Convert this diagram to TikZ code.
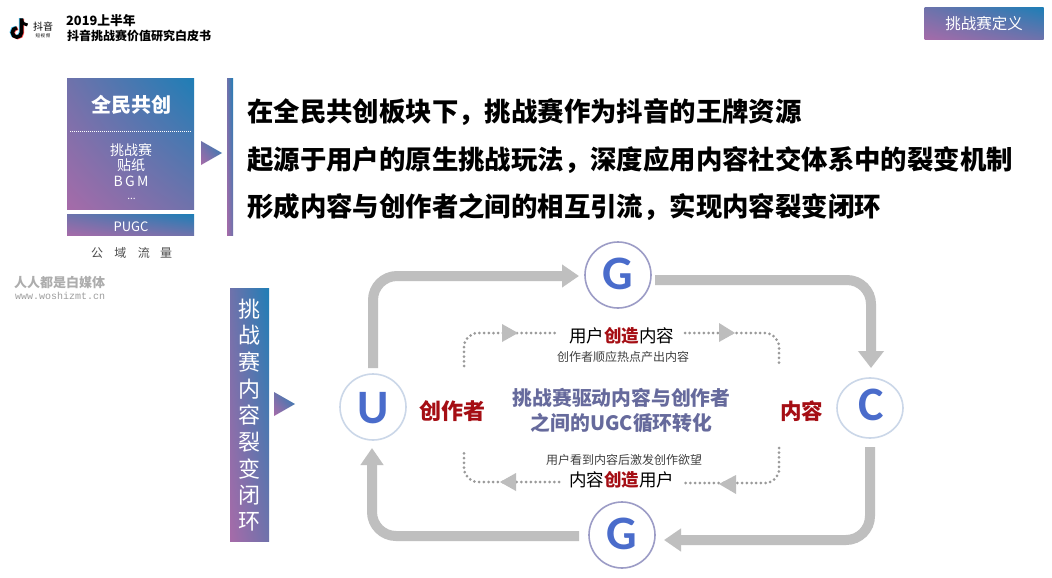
\documentclass[tikz,border=0pt]{standalone}
\usepackage{fontspec}
\setmainfont{Noto Sans CJK SC}
\newfontfamily\latinbold{Carlito}
\newfontfamily\wmono{Liberation Mono}
\usetikzlibrary{arrows.meta,shadings,shapes.geometric}
\definecolor{gpurple}{HTML}{A66BA9}
\definecolor{gblue}{HTML}{1F7EB6}
\definecolor{gmid}{HTML}{6F72AB}
\definecolor{arrowgray}{HTML}{BFBFBF}
\definecolor{dotgray}{HTML}{9A9A9A}
\definecolor{trigray}{HTML}{BDBDBD}
\definecolor{darkred}{HTML}{A50E14}
\definecolor{lettblue}{HTML}{4A6CCB}
\definecolor{ringa}{HTML}{CBD7E8}
\definecolor{ringb}{HTML}{9C9CC6}
\definecolor{slate}{HTML}{666A9C}
\newcommand{\fs}[1]{\fontsize{#1}{#1}\selectfont}
\tikzset{
  gradbox/.style={rectangle,inner sep=0pt,outer sep=0pt,lower left=gpurple,upper right=gblue,upper left=gmid,lower right=gmid,text=white,align=center},
  bigline/.style={draw=arrowgray,line width=10pt,rounded corners=24pt},
  bighead/.style={bigline,-{Triangle[length=17pt,width=22pt]}},
  dotline/.style={draw=dotgray,line width=3pt,line cap=round,dash pattern=on 0pt off 4.7pt,rounded corners=14pt},
  ring/.style={circle,draw=#1,fill=white,line width=1.6pt,minimum size=66pt,inner sep=0pt},
  letter/.style={inner sep=0pt,text=lettblue,font=\latinbold\fs{48}\bfseries},
  midtext/.style={inner sep=0pt,font=\fs{17.5},align=center},
  smalltext/.style={inner sep=0pt,font=\fs{12},text=black!75},
  headline/.style={inner sep=0pt,anchor=west,font=\fs{26.4}\bfseries},
  pile/.style={inner sep=0pt,text=white,font=\fs{14}},
}
\begin{document}
\begin{tikzpicture}[x=1pt,y=-1pt]
\useasboundingbox (0,0) rectangle (1052,578);
\fill[white] (0,0) rectangle (1052,578);

% logo
\begin{scope}[line width=3.6pt,line cap=butt]
\draw[cyan!70!white,shift={(-0.8,-0.4)}] (21.5,18.5) -- (21.5,32.5) arc[start angle=0,end angle=270,radius=4.6] ;
\draw[red!70!white,shift={(0.8,0.4)}] (21.5,18.5) -- (21.5,32.5) arc[start angle=0,end angle=270,radius=4.6];
\draw[black] (21.5,18.5) -- (21.5,32.5) arc[start angle=0,end angle=270,radius=4.6];
\draw[black,line width=3pt] (21.5,19.5) .. controls (22,23) and (24.5,25) .. (27.5,25);
\end{scope}
\node[inner sep=0pt,font=\fs{10}] (logotext) at (43,27) {抖音};
\node[inner sep=0pt,font=\fs{4.5}] (logosub) at (43,36) {短\,视\,频};
\node[inner sep=0pt,anchor=west,font=\fs{12.8}\bfseries] (head1) at (66,20.5) {2019上半年};
\node[inner sep=0pt,anchor=west,font=\fs{12}\bfseries] (head2) at (67,35.5) {抖音挑战赛价值研究白皮书};

% tab
\node[gradbox,minimum width=119pt,minimum height=32pt,font=\fs{15.5}] (tab) at (984,24) {挑战赛定义};

% left stack
\node[gradbox,minimum width=127pt,minimum height=131pt] (stack) at (130.5,144) {};
\node[pile,font=\fs{20}\bfseries] (stacktitle) at (131,105) {全民共创};
\draw[white,line width=0.8pt,dash pattern=on 1pt off 1pt] (70,131) -- (192,131);
\node[pile] (p1) at (131,150) {挑战赛};
\node[pile] (p2) at (131,165) {贴纸};
\node[pile] (p3) at (131,181) {B\,G\,M};
\node[inner sep=0pt,text=white,font=\fs{10}] (p4) at (131.5,199) {...};
\node[gradbox,minimum width=127pt,minimum height=21pt] (pugc) at (130.5,225) {};
\node[pile,font=\fs{13}] (pugct) at (131,227) {PUGC};
\node[inner sep=0pt,text=black!70,font=\fs{12}] (traffic) at (131.5,253) {公\hspace{11.5pt}域\hspace{11.5pt}流\hspace{10pt}量};

% watermark
\node[inner sep=0pt,anchor=west,text=black!32,font=\fs{13}\bfseries] (wm1) at (14,283) {人人都是白媒体};
\node[inner sep=0pt,anchor=west,text=black!38,font=\wmono\fs{10}] (wm2) at (15,296) {www.woshizmt.cn};

% triangles and bar
\shade[lower left=gpurple,upper right=gblue,upper left=gmid,lower right=gmid] (201,141) -- (222,153) -- (201,165) -- cycle;
\node[gradbox,minimum width=6pt,minimum height=156pt] (bar) at (230,157) {};
\shade[lower left=gpurple,upper right=gblue,upper left=gmid,lower right=gmid] (274,392) -- (295,404) -- (274,416) -- cycle;

% headline
\node[headline] (l1) at (247,112) {在全民共创板块下，挑战赛作为抖音的王牌资源};
\node[headline] (l2) at (247,160) {起源于用户的原生挑战玩法，深度应用内容社交体系中的裂变机制};
\node[headline] (l3) at (247,207) {形成内容与创作者之间的相互引流，实现内容裂变闭环};

% vertical label
\node[gradbox,minimum width=39pt,minimum height=253pt] (vbox) at (249.5,414.5) {};
\foreach \c [count=\i from 0] in {挑,战,赛,内,容,裂,变,闭,环}
  \node[inner sep=0pt,text=white,font=\fs{22}] (v\i) at (249,309+26.6*\i) {\c};

% circles
\node[ring=ringa] (U) at (373,407) {};
\node[letter] (Ul) at (373,408) {U};
\node[ring=ringb] (Gt) at (618,275) {};
\node[letter] (Gtl) at (618,274) {G};
\node[ellipse,draw=ringa,fill=white,line width=1.6pt,minimum width=66pt,minimum height=60pt,inner sep=0pt] (C) at (870,408) {};
\node[letter] (Cl) at (871,405) {C};
\node[ring=ringb] (Gb) at (622,535) {};
\node[letter] (Gbl) at (622,534) {G};

% big connectors
\coordinate (a1) at (373,368); \coordinate (a2) at (373,276); \coordinate (a3) at (579,276);
\coordinate (b1) at (655,280); \coordinate (b2) at (871,280); \coordinate (b3) at (871,368);
\coordinate (c1) at (870,447); \coordinate (c2) at (870,540); \coordinate (c3) at (664,540);
\coordinate (d1) at (579,536); \coordinate (d2) at (372,536); \coordinate (d3) at (372,448);
\draw[bighead] (a1) -- (a2) -- (a3);
\draw[bighead,-{Triangle[length=17pt,width=25pt]}] (b1) -- (b2) -- (b3);
\draw[bighead] (c1) -- (c2) -- (c3);
\draw[bighead] (d1) -- (d2) -- (d3);

% dotted connectors
\coordinate (e1) at (464,366); \coordinate (e2) at (464,333); \coordinate (e3) at (558,333);
\coordinate (f1) at (685,333); \coordinate (f2) at (779,333); \coordinate (f3) at (779,366);
\coordinate (g1) at (779,448); \coordinate (g2) at (779,483); \coordinate (g3) at (685,483);
\coordinate (h1) at (559,482); \coordinate (h2) at (464,482); \coordinate (h3) at (464,449);
\draw[dotline] (e1) -- (e2) -- (e3);
\draw[dotline] (f1) -- (f2) -- (f3);
\draw[dotline] (g1) -- (g2) -- (g3);
\draw[dotline] (h1) -- (h2) -- (h3);
\fill[trigray] (502,324) -- (518,333) -- (502,342) -- cycle;
\fill[trigray] (719,323) -- (735,333) -- (719,342) -- cycle;
\fill[trigray] (736,475) -- (719,484) -- (736,494) -- cycle;
\fill[trigray] (516,473) -- (500,482) -- (516,491) -- cycle;

% texts
\node[midtext] (t1) at (621.5,336) {用户{\bfseries\color{darkred}创造}内容};
\node[smalltext] (t2) at (623,357) {创作者顺应热点产出内容};
\node[smalltext] (t3) at (624,460) {用户看到内容后激发创作欲望};
\node[midtext] (t4) at (621.5,480) {内容{\bfseries\color{darkred}创造}用户};
\node[inner sep=0pt,text=slate,font=\fs{19.8}\bfseries] (c1t) at (621.5,398) {挑战赛驱动内容与创作者};
\node[inner sep=0pt,text=slate,font=\fs{19.8}\bfseries] (c2t) at (621.5,423) {之间的UGC循环转化};
\node[inner sep=0pt,text=darkred,font=\fs{22}\bfseries] (creator) at (452,411) {创作者};
\node[inner sep=0pt,text=darkred,font=\fs{21.5}\bfseries] (content) at (801.5,411) {内容};
\end{tikzpicture}
\end{document}
